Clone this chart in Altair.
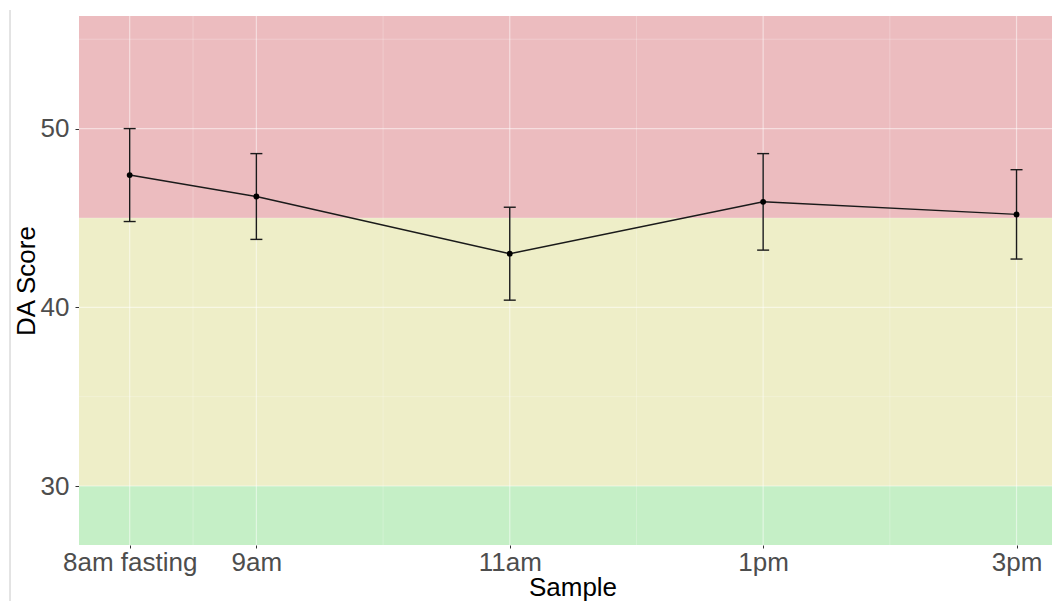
import altair as alt
import pandas as pd

# ---- data ----
hours = [8, 9, 11, 13, 15]
labels = ["8am fasting", "9am", "11am", "1pm", "3pm"]
mean = [47.4, 46.2, 43.0, 45.9, 45.2]
lower = [44.8, 43.8, 40.4, 43.2, 42.7]
upper = [50.0, 48.6, 45.6, 48.6, 47.7]

band_lo = [0, 30, 45]
band_hi = [30, 45, 100]
band_color = ["#c5efc6", "#eeeec8", "#ecbcbf"]

x_major = [8, 9, 11, 13, 15]
x_minor = [8.5, 10, 12, 14]
y_major = [30, 40, 50]
y_minor = [35, 45, 55]

W, H = 973, 529
x_dom = [7.6, 15.28]
y_dom = [26.7, 56.3]

df = pd.DataFrame({"hour": hours, "label": labels, "mean": mean, "lo": lower, "hi": upper})
bands = pd.DataFrame({"lo": band_lo, "hi": band_hi, "c": band_color})

xs = alt.Scale(domain=x_dom, nice=False, zero=False)
ys = alt.Scale(domain=y_dom, nice=False, zero=False)

label_map = "{" + ",".join(f"'{h}':'{l}'" for h, l in zip(hours, labels)) + "}"

font = "Liberation Sans"

xaxis = alt.Axis(values=hours, labelExpr=f"{label_map}[datum.value]", grid=False, domain=False,
                 tickSize=3, tickColor="#333333", labelPadding=1, labelFontSize=26,
                 labelColor="#4d4d4d", labelFont=font, title="Sample", titleFont=font,
                 titleFontSize=26, titleFontWeight="normal", titleColor="#000000",
                 titleX=W / 2 + 7, titleAlign="center",
                 titleY=50, titleBaseline="alphabetic")
yaxis = alt.Axis(values=y_major, grid=False, domain=False, tickSize=4, tickColor="#333333",
                 labelPadding=6, labelFontSize=26, labelColor="#4d4d4d", labelFont=font,
                 labelBaseline="middle",
                 title="DA Score", titleFont=font, titleFontSize=26, titleFontWeight="normal",
                 titleColor="#000000", titleX=-53, titleY=H / 2, titleBaseline="middle")

bg = alt.Chart(bands).mark_rect(clip=True).encode(
    y=alt.Y("lo:Q", scale=ys, axis=yaxis),
    y2="hi:Q",
    x=alt.value(0), x2=alt.value(W),
    color=alt.Color("c:N", scale=None),
)

gx_major = alt.Chart(pd.DataFrame({"v": x_major})).mark_rule(color="white", opacity=0.5, strokeWidth=1.2).encode(
    x=alt.X("v:Q", scale=xs, axis=xaxis))
gx_minor = alt.Chart(pd.DataFrame({"v": x_minor})).mark_rule(color="white", opacity=0.3, strokeWidth=0.8).encode(
    x=alt.X("v:Q", scale=xs))
gy_major = alt.Chart(pd.DataFrame({"v": y_major})).mark_rule(color="white", opacity=0.5, strokeWidth=1.2).encode(
    y=alt.Y("v:Q", scale=ys))
gy_minor = alt.Chart(pd.DataFrame({"v": y_minor})).mark_rule(color="white", opacity=0.3, strokeWidth=0.8).encode(
    y=alt.Y("v:Q", scale=ys))

base = alt.Chart(df)
ink = "#1a1a1a"
err = base.mark_rule(color=ink, strokeWidth=1.4).encode(
    x=alt.X("hour:Q", scale=xs), y=alt.Y("lo:Q", scale=ys), y2="hi:Q")
cap_top = base.mark_rule(color=ink, strokeWidth=1.4, xOffset=-6, x2Offset=6).encode(
    x=alt.X("hour:Q", scale=xs), x2="hour:Q", y=alt.Y("hi:Q", scale=ys))
cap_bot = base.mark_rule(color=ink, strokeWidth=1.4, xOffset=-6, x2Offset=6).encode(
    x=alt.X("hour:Q", scale=xs), x2="hour:Q", y=alt.Y("lo:Q", scale=ys))
line = base.mark_line(color=ink, strokeWidth=1.5).encode(
    x=alt.X("hour:Q", scale=xs), y=alt.Y("mean:Q", scale=ys))
pts = base.mark_circle(color="#000000", opacity=1, size=34).encode(
    x=alt.X("hour:Q", scale=xs), y=alt.Y("mean:Q", scale=ys))

border = alt.Chart(pd.DataFrame({"v": [0]})).mark_rule(color="#c8c8c8", strokeWidth=1).encode(
    x=alt.value(-69), y=alt.value(-6), y2=alt.value(H + 60))

chart = alt.layer(bg, gx_minor, gy_minor, gx_major, gy_major, err, cap_top, cap_bot, line, pts, border).properties(
    width=W, height=H,
    autosize=alt.AutoSizeParams(type="none"),
    padding={"left": 71, "top": 8, "right": 0, "bottom": 56},
).configure_view(stroke=None)

chart.save("out.html", embed_options={"renderer": "svg", "actions": False})
